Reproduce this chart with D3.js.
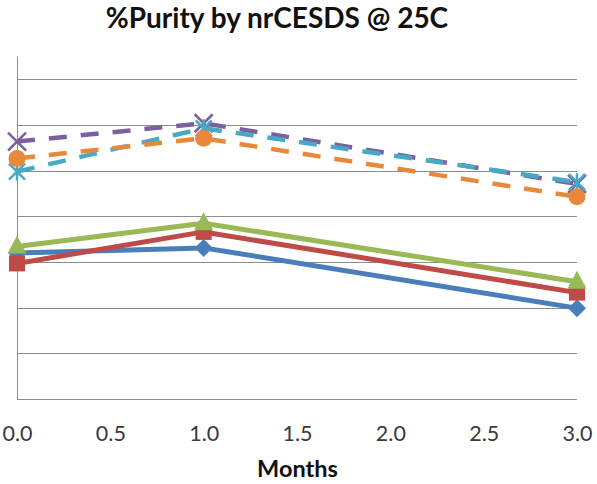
<!DOCTYPE html>
<html>
<head>
<meta charset="utf-8">
<script src="https://cdn.jsdelivr.net/npm/d3@7/dist/d3.min.js"></script>
<style>
  html, body { margin: 0; padding: 0; background: #fff; }
  svg { display: block; }
</style>
</head>
<body>
<svg id="chart" width="597" height="484"></svg>
<script>
// Time points (months) and % purity for each lot
const months = [0, 1, 3];
const xTicks = [0, 0.5, 1, 1.5, 2, 2.5, 3];
const yGrid = [91, 92, 93, 94, 95, 96, 97];

const lotA = [93.20, 93.31, 91.99];   // blue, diamond
const lotB = [92.97, 93.66, 92.33];   // red, square
const lotC = [93.34, 93.85, 92.57];   // green, triangle
const lotD = [95.64, 96.04, 94.71];   // purple dashed, x
const lotE = [94.98, 95.93, 94.75];   // teal dashed, star
const lotF = [95.27, 95.71, 94.43];   // orange dashed, circle

const series = [
  { values: lotA, color: "#4A7EBB", dashed: false, marker: "diamond" },
  { values: lotB, color: "#BE4B48", dashed: false, marker: "square" },
  { values: lotC, color: "#98B954", dashed: false, marker: "triangle" },
  { values: lotD, color: "#7D5FA0", dashed: true,  marker: "x" },
  { values: lotE, color: "#46AAC5", dashed: true,  marker: "star" },
  { values: lotF, color: "#E8883A", dashed: true,  marker: "circle" }
];

const svg = d3.select("#chart");
const x = d3.scaleLinear().domain([0, 3]).range([17, 577]);
const y = d3.scaleLinear().domain([90, 97.5]).range([399, 56.6]);

// horizontal gridlines
svg.append("g").selectAll("line").data(yGrid).join("line")
  .attr("x1", x(0)).attr("x2", x(3))
  .attr("y1", d => Math.round(y(d)) + 0.5).attr("y2", d => Math.round(y(d)) + 0.5)
  .attr("stroke", "#8c8c8c").attr("stroke-width", 1);

// axes lines
svg.append("line").attr("x1", x(0) + 0.5).attr("x2", x(0) + 0.5)
  .attr("y1", y(97.5)).attr("y2", y(90)).attr("stroke", "#8c8c8c");
svg.append("line").attr("x1", x(0)).attr("x2", x(3))
  .attr("y1", Math.round(y(90)) + 0.5).attr("y2", Math.round(y(90)) + 0.5).attr("stroke", "#8c8c8c");

// x tick labels
const xAxis = d3.axisBottom(x).tickValues(xTicks).tickFormat(d3.format(".1f")).tickSize(0).tickPadding(0);
const gx = svg.append("g").attr("transform", `translate(0, 399)`).call(xAxis);
gx.select(".domain").remove();
gx.selectAll("text")
  .attr("y", 41.5).attr("dy", null)
  .attr("font-family", "Lato, 'Open Sans', sans-serif")
  .attr("font-size", 21.5).attr("fill", "#3a3a3a");

// title and axis title
svg.append("text").attr("x", 277).attr("y", 27.5).attr("text-anchor", "middle")
  .attr("font-family", "Lato, 'Open Sans', sans-serif").attr("font-weight", "bold")
  .attr("font-size", 28).attr("fill", "#111").text("%Purity by nrCESDS @ 25C");
svg.append("text").attr("x", 297.5).attr("y", 476.5).attr("text-anchor", "middle")
  .attr("font-family", "Lato, 'Open Sans', sans-serif").attr("font-weight", "bold")
  .attr("font-size", 23.5).attr("fill", "#111").text("Months");

const line = d3.line().x((d, i) => x(months[i])).y(d => y(d));

function drawMarker(g, kind, color, cx, cy) {
  if (kind === "diamond") {
    g.append("path").attr("d", `M${cx},${cy - 9}L${cx + 9},${cy}L${cx},${cy + 9}L${cx - 9},${cy}Z`).attr("fill", color);
  } else if (kind === "square") {
    g.append("rect").attr("x", cx - 8).attr("y", cy - 8).attr("width", 16).attr("height", 16).attr("fill", color);
  } else if (kind === "triangle") {
    g.append("path").attr("d", `M${cx},${cy - 11}L${cx + 9.5},${cy + 7}L${cx - 9.5},${cy + 7}Z`).attr("fill", color);
  } else if (kind === "circle") {
    g.append("circle").attr("cx", cx).attr("cy", cy).attr("r", 8.5).attr("fill", color);
  } else if (kind === "x") {
    const r = 9;
    g.append("path").attr("d", `M${cx - r},${cy - r}L${cx + r},${cy + r}M${cx - r},${cy + r}L${cx + r},${cy - r}`)
      .attr("stroke", color).attr("stroke-width", 2.5).attr("fill", "none");
  } else if (kind === "star") {
    const r = 8;
    g.append("path").attr("d", `M${cx - r},${cy - r}L${cx + r},${cy + r}M${cx - r},${cy + r}L${cx + r},${cy - r}M${cx},${cy - r - 1}L${cx},${cy + r + 1}`)
      .attr("stroke", color).attr("stroke-width", 2.5).attr("fill", "none");
  }
}

series.forEach(s => {
  const g = svg.append("g");
  g.append("path").datum(s.values).attr("d", line)
    .attr("fill", "none").attr("stroke", s.color)
    .attr("stroke-width", s.dashed ? 4.5 : 5)
    .attr("stroke-dasharray", s.dashed ? "18,14" : null)
    .attr("stroke-linejoin", "round");
  s.values.forEach((v, i) => drawMarker(g, s.marker, s.color, x(months[i]), y(v)));
});
</script>
</body>
</html>
